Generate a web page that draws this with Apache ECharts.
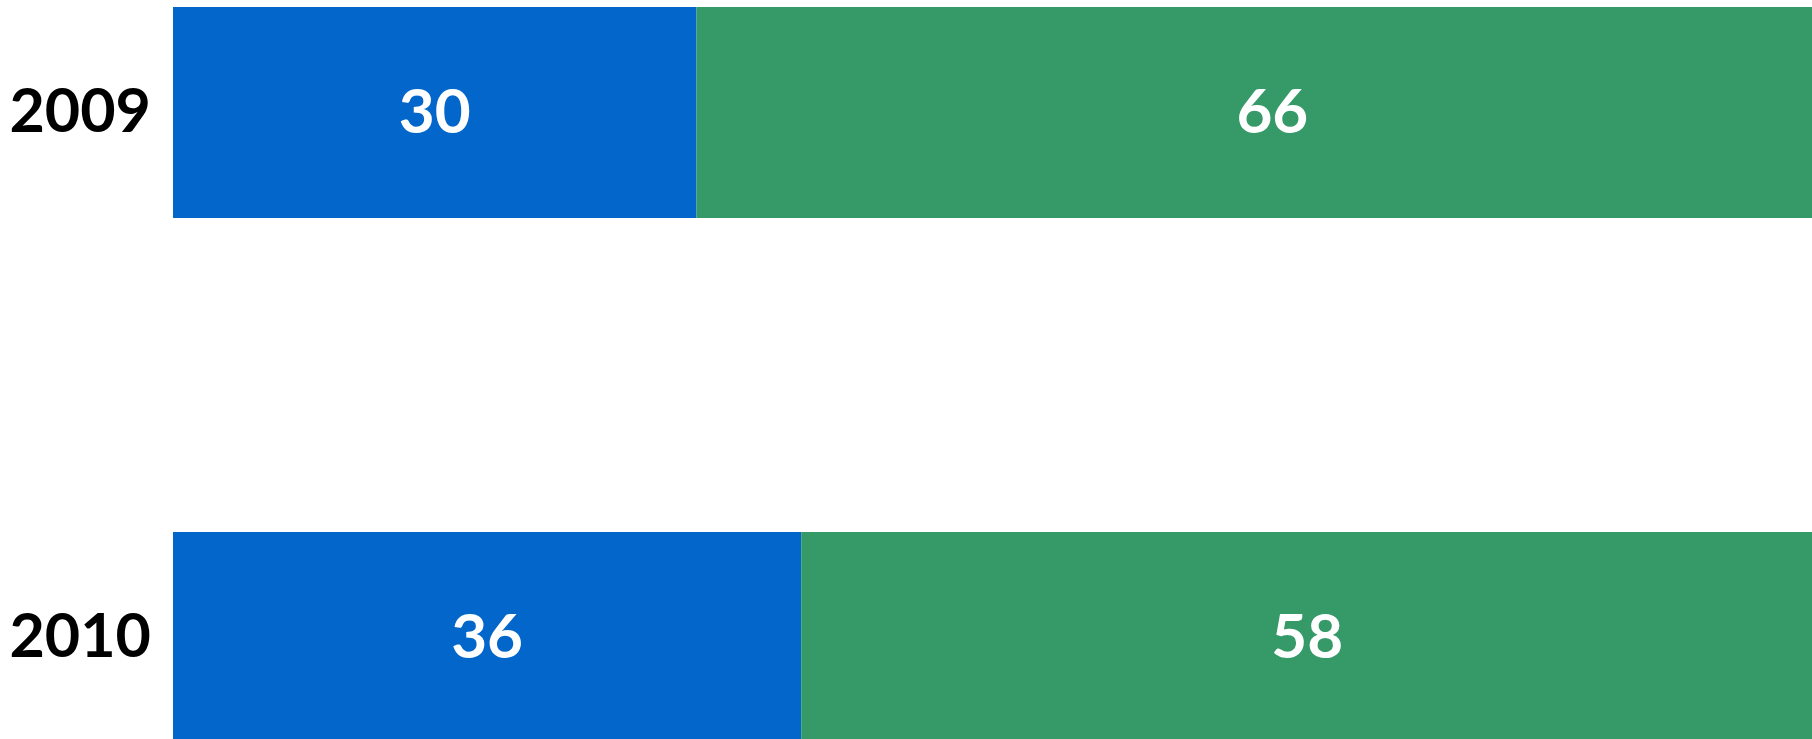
<!DOCTYPE html>
<html>
<head>
<meta charset="utf-8">
<title>2009 / 2010</title>
<script src="https://cdn.jsdelivr.net/npm/echarts@6/dist/echarts.min.js"></script>
<style>
    html, body {
        margin: 0;
        padding: 0;
        background: #ffffff;
    }
    #chart {
        width: 1812px;
        height: 739px;
    }
</style>
</head>
<body>
<div id="chart"></div>
<script>
    // 年份
    var years = ['2009', '2010'];
    // 左边蓝色那段
    var blueValues = [30, 36];
    // 右边绿色那段
    var greenValues = [66, 58];

    var myChart = echarts.init(document.getElementById('chart'));

    var valueLabel = {
        show: true,
        position: 'inside',
        color: '#ffffff',
        fontFamily: 'Lato',
        fontWeight: 'bold',
        fontSize: 62
    };

    var option = {
        animation: false,
        // 图比画布大, 底部和右边都被裁掉了
        grid: {
            left: 173,
            top: -150,
            width: 1745,
            height: 1050,
            outerBoundsMode: 'none',
            containLabel: false
        },
        xAxis: {
            type: 'value',
            min: 0,
            max: 100,
            show: false
        },
        yAxis: {
            type: 'category',
            inverse: true,
            data: years,
            axisLine: {show: false},
            axisTick: {show: false},
            splitLine: {show: false},
            axisLabel: {
                color: '#000000',
                fontFamily: 'Lato',
                fontWeight: 'bold',
                fontSize: 61,
                margin: 22
            }
        },
        series: [
            {
                type: 'bar',
                stack: 'total',
                barWidth: 211,
                itemStyle: {color: '#0366cb'},
                label: valueLabel,
                data: blueValues
            },
            {
                type: 'bar',
                stack: 'total',
                barWidth: 211,
                itemStyle: {color: '#359968'},
                label: valueLabel,
                data: greenValues
            }
        ]
    };

    myChart.setOption(option);
</script>
</body>
</html>
